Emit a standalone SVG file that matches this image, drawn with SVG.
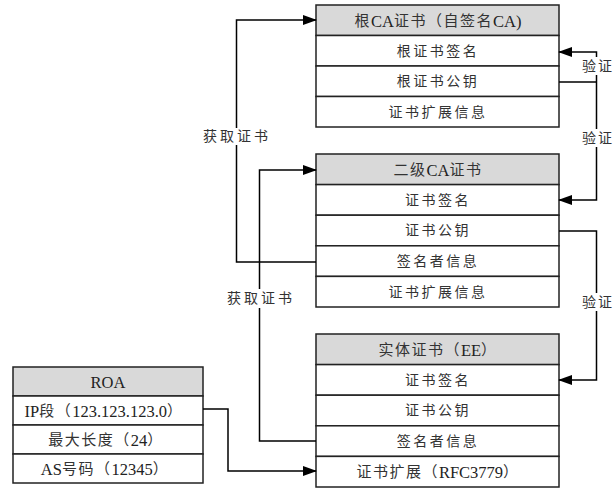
<svg xmlns="http://www.w3.org/2000/svg" width="615" height="488" viewBox="0 0 615 488">
<defs>
<marker id="arr" markerUnits="userSpaceOnUse" markerWidth="14" markerHeight="10" refX="13" refY="5" orient="auto">
<path d="M0,0 L14,5 L0,10 Z" fill="#000"/>
</marker>
<style>
.hd{fill:#d9d9d9;stroke:#222;stroke-width:1.5}
.rw{fill:#fff;stroke:#222;stroke-width:1.5}
.t{font-family:"Liberation Serif","Noto Sans CJK SC",serif;font-size:14px;fill:#333;text-anchor:middle;dominant-baseline:central;letter-spacing:2.5px}
.m{letter-spacing:1.5px;font-size:15px}
.l{font-size:16.5px;fill:#222;letter-spacing:0}
.tl{font-family:"Liberation Serif","Noto Sans CJK SC",serif;font-size:14px;fill:#333;text-anchor:middle;dominant-baseline:central;letter-spacing:3px}
.c{fill:none;stroke:#000;stroke-width:1.5}
</style>
</defs>
<g id="root-ca">
<rect class="hd" x="316" y="5" width="243" height="30.5"/>
<rect class="rw" x="316" y="35.5" width="243" height="30.5"/>
<rect class="rw" x="316" y="66" width="243" height="30.5"/>
<rect class="rw" x="316" y="96.5" width="243" height="30.5"/>
<text class="t m" x="438" y="21">根<tspan class="l">CA</tspan>证书（自签名<tspan class="l">CA)</tspan></text>
<text class="t" x="438" y="51">根证书签名</text>
<text class="t" x="438" y="81.5">根证书公钥</text>
<text class="t" x="438" y="112">证书扩展信息</text>
</g>
<g id="sub-ca">
<rect class="hd" x="316" y="154" width="243" height="30.6"/>
<rect class="rw" x="316" y="184.6" width="243" height="30.6"/>
<rect class="rw" x="316" y="215.2" width="243" height="30.6"/>
<rect class="rw" x="316" y="245.8" width="243" height="30.6"/>
<rect class="rw" x="316" y="276.4" width="243" height="30.6"/>
<text class="t m" x="438" y="170">二级<tspan class="l">CA</tspan>证书</text>
<text class="t" x="438" y="200">证书签名</text>
<text class="t" x="438" y="230.5">证书公钥</text>
<text class="t" x="438" y="261">签名者信息</text>
<text class="t" x="438" y="292">证书扩展信息</text>
</g>
<g id="ee">
<rect class="hd" x="316" y="334" width="243" height="30.6"/>
<rect class="rw" x="316" y="364.6" width="243" height="30.6"/>
<rect class="rw" x="316" y="395.2" width="243" height="30.6"/>
<rect class="rw" x="316" y="425.8" width="243" height="30.6"/>
<rect class="rw" x="316" y="456.4" width="243" height="30.6"/>
<text class="t m" x="438" y="350">实体证书（<tspan class="l">EE</tspan>）</text>
<text class="t" x="438" y="380">证书签名</text>
<text class="t" x="438" y="410.5">证书公钥</text>
<text class="t" x="438" y="441">签名者信息</text>
<text class="t m" x="438" y="471.5">证书扩展（<tspan class="l">RFC3779</tspan>）</text>
</g>
<g id="roa">
<rect class="hd" x="13" y="367" width="190" height="29"/>
<rect class="rw" x="13" y="396" width="190" height="29"/>
<rect class="rw" x="13" y="425" width="190" height="29"/>
<rect class="rw" x="13" y="454" width="190" height="29"/>
<text class="t m" x="108" y="381.5"><tspan class="l">ROA</tspan></text>
<text class="t m" x="104" y="410.5"><tspan class="l">IP</tspan>段（<tspan class="l">123.123.123.0</tspan>）</text>
<text class="t m" x="106" y="439.5">最大长度（<tspan class="l">24</tspan>）</text>
<text class="t m" x="105" y="468.5"><tspan class="l">AS</tspan>号码（<tspan class="l">12345</tspan>）</text>
</g>
<g id="connectors">
<path class="c" d="M316,262 H236.5 V145"/>
<path class="c" d="M236.5,128 V20 H316" marker-end="url(#arr)"/>
<path class="c" d="M316,441 H259.5 V308"/>
<path class="c" d="M259.5,289 V170 H316" marker-end="url(#arr)"/>
<path class="c" d="M596.5,57 V52 H559" marker-end="url(#arr)"/>
<path class="c" d="M559,82 H596.5 M596.5,75 V129"/>
<path class="c" d="M596.5,147 V200 H559" marker-end="url(#arr)"/>
<path class="c" d="M559,231 H596.5 V293"/>
<path class="c" d="M596.5,311 V380 H559" marker-end="url(#arr)"/>
<path class="c" d="M203,409 H228 V471 H316" marker-end="url(#arr)"/>
<text class="tl" x="237" y="136.5">获取证书</text>
<text class="tl" x="261" y="298">获取证书</text>
<text class="tl" x="598" y="66" style="letter-spacing:2px">验证</text>
<text class="tl" x="598" y="138" style="letter-spacing:2px">验证</text>
<text class="tl" x="598" y="302" style="letter-spacing:2px">验证</text>
</g>
</svg>
